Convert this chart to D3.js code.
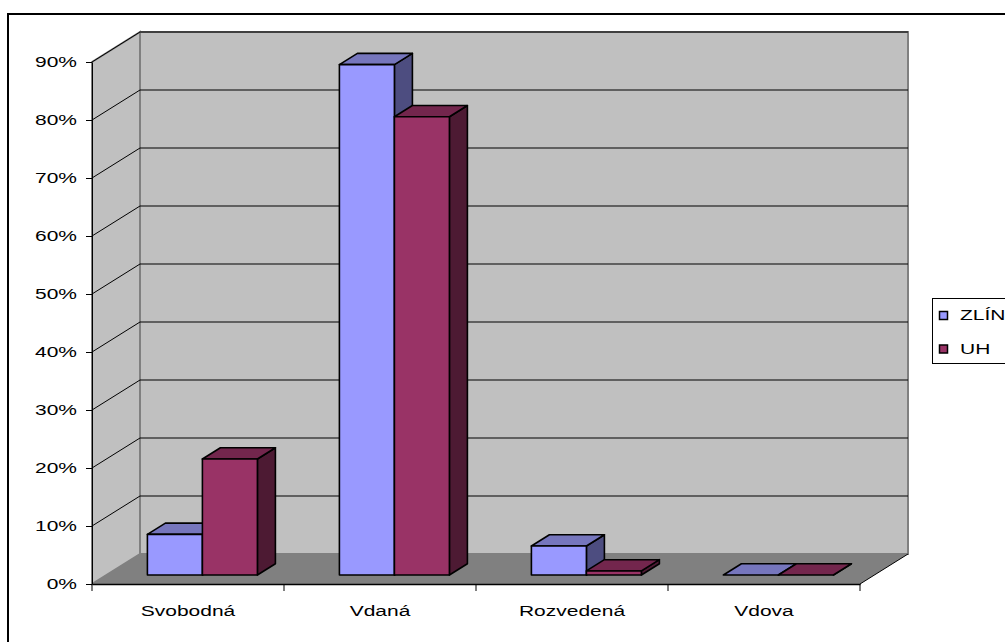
<!DOCTYPE html>
<html>
<head>
<meta charset="utf-8">
<script src="https://cdn.jsdelivr.net/npm/d3@7"></script>
<style>
  html, body { margin: 0; padding: 0; background: #fff; }
  svg { display: block; font-family: "Liberation Sans", Arial, sans-serif; }
</style>
</head>
<body>
<svg id="chart" width="1005" height="642"></svg>
<script>
// Marital status share by region (3D clustered columns)
const categories = ["Svobodná", "Vdaná", "Rozvedená", "Vdova"];
const seriesNames = ["ZLÍN", "UH"];
const zlinValues = [0.07, 0.88, 0.05, 0.0];
const uhValues = [0.20, 0.79, 0.007, 0.0];
const yTicks = [0, 0.1, 0.2, 0.3, 0.4, 0.5, 0.6, 0.7, 0.8, 0.9];

const seriesValues = [zlinValues, uhValues];
const seriesColors = [
  { front: "#9999FF", top: "#7676BD", side: "#4D4D80" },
  { front: "#993366", top: "#73264D", side: "#4D1A33" }
];

const svg = d3.select("#chart");

// Front plane of the plot and the depth vector of the 3D box
const frontLeft = 92, frontRight = 860, frontBottom = 584, frontTop = 62;
const depth = { dx: 48, dy: -30 };
const barFront = 0.3, barBack = 0.675;   // bar placement along depth (fraction)
const barHalfGroup = 55;                  // half width of a bar pair

const x = d3.scaleBand().domain(categories).range([frontLeft, frontRight]);
const y = d3.scaleLinear().domain([0, 0.9]).range([frontBottom, frontTop]);

const proj = (px, v, f) => [px + f * depth.dx, y(v) + f * depth.dy];
const poly = pts => pts.map(p => p.join(",")).join(" ");

// Outer chart frame (runs past the right and bottom edge)
svg.append("rect")
  .attr("x", 8).attr("y", 14).attr("width", 1100).attr("height", 700)
  .attr("fill", "none").attr("stroke", "#000").attr("stroke-width", 2);

const yMax = d3.max(yTicks);

// Back wall
svg.append("polygon")
  .attr("points", poly([proj(frontLeft, yMax, 1), proj(frontRight, yMax, 1),
                        proj(frontRight, 0, 1), proj(frontLeft, 0, 1)]))
  .attr("fill", "#C0C0C0").attr("stroke", "#808080").attr("stroke-width", 2);

// Left wall
svg.append("polygon")
  .attr("points", poly([proj(frontLeft, 0, 0), proj(frontLeft, yMax, 0),
                        proj(frontLeft, yMax, 1), proj(frontLeft, 0, 1)]))
  .attr("fill", "#C0C0C0").attr("stroke", "#808080").attr("stroke-width", 2);

// Floor
svg.append("polygon")
  .attr("points", poly([proj(frontLeft, 0, 0), proj(frontRight, 0, 0),
                        proj(frontRight, 0, 1), proj(frontLeft, 0, 1)]))
  .attr("fill", "#808080");
svg.append("line")
  .attr("x1", proj(frontRight, 0, 0)[0]).attr("y1", proj(frontRight, 0, 0)[1])
  .attr("x2", proj(frontRight, 0, 1)[0]).attr("y2", proj(frontRight, 0, 1)[1])
  .attr("stroke", "#000").attr("stroke-width", 1);

// Gridlines on the back and left walls
const grid = svg.append("g").attr("stroke", "#000").attr("stroke-width", 1);
yTicks.filter(v => v > 0).forEach(v => {
  const a = proj(frontLeft, v, 1), b = proj(frontRight, v, 1), c = proj(frontLeft, v, 0);
  grid.append("line").attr("x1", a[0]).attr("y1", a[1]).attr("x2", b[0]).attr("y2", b[1]);
  grid.append("line").attr("x1", c[0]).attr("y1", c[1]).attr("x2", a[0]).attr("y2", a[1]);
});

// Bars, drawn left to right so neighbours overlap correctly
const barsG = svg.append("g").attr("stroke", "#000").attr("stroke-width", 1.6)
  .attr("stroke-linejoin", "round");
const inner = d3.scaleBand().domain(seriesNames).range([-barHalfGroup, barHalfGroup]);

categories.forEach((cat, ci) => {
  const cx = x(cat) + x.bandwidth() / 2;
  seriesNames.forEach((s, si) => {
    const v = seriesValues[si][ci];
    const x0 = cx + inner(s), x1 = x0 + inner.bandwidth();
    const col = seriesColors[si];
    const fbl = proj(x0, 0, barFront), fbr = proj(x1, 0, barFront);
    const ftl = proj(x0, v, barFront), ftr = proj(x1, v, barFront);
    const bbr = proj(x1, 0, barBack);
    const btl = proj(x0, v, barBack), btr = proj(x1, v, barBack);
    const g = barsG.append("g");
    // right side
    g.append("polygon").attr("points", poly([fbr, ftr, btr, bbr])).attr("fill", col.side);
    // top
    g.append("polygon").attr("points", poly([ftl, ftr, btr, btl])).attr("fill", col.top);
    // front
    if (v > 0) {
      g.append("polygon").attr("points", poly([fbl, fbr, ftr, ftl])).attr("fill", col.front);
    }
  });
});

// Value axis
const textScale = "scale(1.4,1)";
const yAxis = svg.append("g")
  .attr("transform", `translate(${frontLeft},0)`)
  .call(d3.axisLeft(y).tickValues(yTicks).tickFormat(d3.format(".0%"))
    .tickSize(6).tickSizeOuter(0));
yAxis.select(".domain").attr("stroke", "#000");
yAxis.selectAll(".tick line").attr("stroke", "#000");
yAxis.selectAll(".tick text")
  .attr("x", null)
  .attr("transform", `translate(-15,0) ${textScale}`)
  .attr("font-size", 15).attr("font-family", "Liberation Sans, Arial, sans-serif")
  .attr("fill", "#000");

// Category axis: labels centred, ticks at category boundaries
const xAxis = svg.append("g")
  .attr("transform", `translate(0,${frontBottom})`)
  .call(d3.axisBottom(x).tickSize(0).tickPadding(0));
xAxis.select(".domain").attr("stroke", "#000").attr("stroke-width", 1.5);
xAxis.selectAll(".tick text")
  .attr("y", null).attr("dy", null)
  .attr("transform", `translate(0,32) ${textScale}`)
  .attr("font-size", 15).attr("font-family", "Liberation Sans, Arial, sans-serif")
  .attr("fill", "#000");
const bounds = categories.map(c => x(c)).concat([x.range()[1]]);
xAxis.selectAll(".bound").data(bounds).join("line")
  .attr("class", "bound")
  .attr("x1", d => d).attr("x2", d => d).attr("y1", 0).attr("y2", 7)
  .attr("stroke", "#000");

// Legend
const legend = svg.append("g");
legend.append("rect")
  .attr("x", 932.5).attr("y", 298.5).attr("width", 120).attr("height", 65)
  .attr("fill", "#fff").attr("stroke", "#000").attr("stroke-width", 1);
seriesNames.forEach((s, i) => {
  const by = 320 + i * 33.5;
  legend.append("rect")
    .attr("x", 939.5).attr("y", by - 8.5).attr("width", 8).attr("height", 8)
    .attr("fill", seriesColors[i].front).attr("stroke", "#000").attr("stroke-width", 1.5);
  legend.append("text")
    .attr("transform", `translate(960,${by}) ${textScale}`)
    .attr("font-size", 15).attr("fill", "#000")
    .text(s);
});
</script>
</body>
</html>
